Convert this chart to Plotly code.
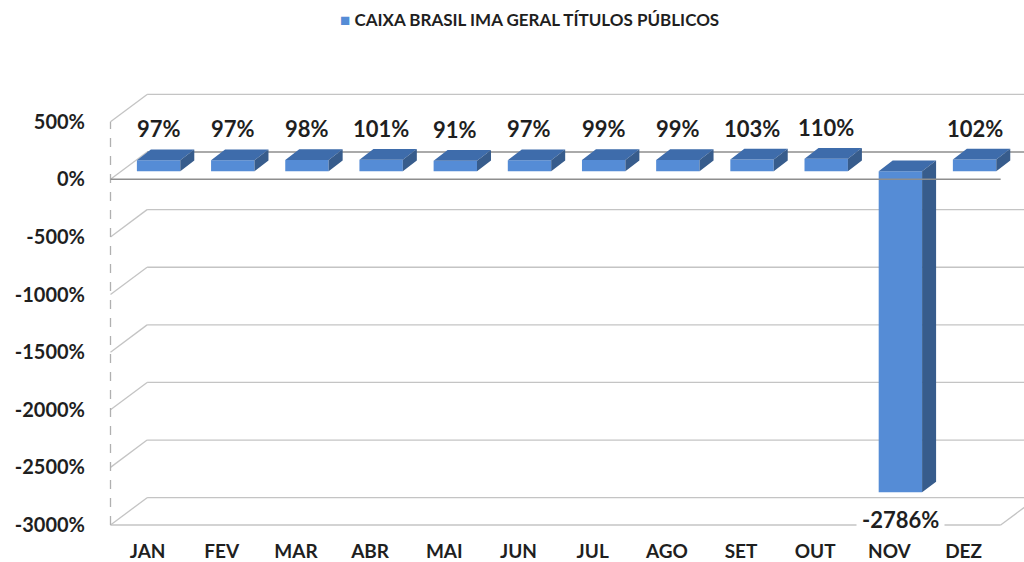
import plotly.graph_objects as go

# ---------------- data ----------------
months = ["JAN", "FEV", "MAR", "ABR", "MAI", "JUN", "JUL", "AGO", "SET", "OUT", "NOV", "DEZ"]
values = [97, 97, 98, 101, 91, 97, 99, 99, 103, 110, -2786, 102]
y_ticks = [500, 0, -500, -1000, -1500, -2000, -2500, -3000]
series_name = "CAIXA BRASIL IMA GERAL TÍTULOS PÚBLICOS"

# ---------------- geometry (pixel based pseudo-3D) ----------------
W, H = 1024, 562
PX_CAT = 74.18          # px per category
PX_PCT = 0.11523        # px per percent unit
ML, MR, MT, MB = 108, 0, 60, 35
front_left_px = 110.5
front_bottom_px = 525.0

plot_w = W - ML - MR
plot_h = H - MT - MB
x_lo = -0.5 - (front_left_px - ML) / PX_CAT
x_hi = x_lo + plot_w / PX_CAT
y_lo = y_ticks[-1] - (H - MB - front_bottom_px) / PX_PCT
y_hi = y_lo + plot_h / PX_PCT

# wall depth
DX = 36.6 / PX_CAT
DY = 27.3 / PX_PCT
# bar placement inside depth
BFX = 11.0 / PX_CAT
BFY = 8.0 / PX_PCT
BDX = 14.0 / PX_CAT
BDY = 10.7 / PX_PCT
BW = 43.4 / PX_CAT

FRONT = "#558CD6"
TOP = "#3E6CAB"
SIDE = "#375C8C"
GRID = "#c4c4c4"
DARK = "#8e8e8e"
FONT = "Lato"
TXT = "#1f1f1f"

fig = go.Figure()

# ---- walls / gridlines as shapes below the traces ----
x_left = -0.5
x_right = len(months) - 0.5
for t in y_ticks:
    if t == 0:
        fig.add_shape(type="line", xref="x", yref="y", x0=x_left, y0=t, x1=x_left + DX, y1=t + DY,
                      line=dict(color=GRID, width=1.3), layer="below")
        fig.add_shape(type="line", xref="x", yref="y", x0=x_left + DX, y0=t + DY, x1=x_hi + 1, y1=t + DY,
                      line=dict(color=DARK, width=1.5), layer="below")
    else:
        fig.add_shape(type="line", xref="x", yref="y", x0=x_left, y0=t, x1=x_left + DX, y1=t + DY,
                      line=dict(color=GRID, width=1.3), layer="below")
        fig.add_shape(type="line", xref="x", yref="y", x0=x_left + DX, y0=t + DY, x1=x_hi + 1, y1=t + DY,
                      line=dict(color=GRID, width=1.3), layer="below")
# floor front edge and right diagonal
fig.add_shape(type="line", xref="x", yref="y", x0=x_left, y0=y_ticks[-1], x1=x_right, y1=y_ticks[-1],
              line=dict(color=GRID, width=1.3), layer="below")
fig.add_shape(type="line", xref="x", yref="y", x0=x_right, y0=y_ticks[-1], x1=x_right + DX,
              y1=y_ticks[-1] + DY, line=dict(color=GRID, width=1.3), layer="below")
# left dashed front edge
fig.add_shape(type="line", xref="x", yref="y", x0=x_left, y0=y_ticks[-1], x1=x_left, y1=y_ticks[0],
              line=dict(color="#b0b0b0", width=1.3, dash="dash"), layer="below")

# bars: front face
xs_front = [i + BFX for i in range(len(values))]
fig.add_trace(go.Bar(x=xs_front, y=values, base=BFY, width=BW, name=series_name,
                     marker=dict(color=FRONT, line=dict(width=0)), hoverinfo="skip",
                     showlegend=False))

# bars: top and side faces
tx, ty, sx, sy = [], [], [], []
for i, v in enumerate(values):
    xl = i + BFX - BW / 2
    xr = i + BFX + BW / 2
    top = max(BFY, BFY + v)
    bot = min(BFY, BFY + v)
    tx += [xl, xr, xr + BDX, xl + BDX, xl, None]
    ty += [top, top, top + BDY, top + BDY, top, None]
    sx += [xr, xr, xr + BDX, xr + BDX, xr, None]
    sy += [bot, top, top + BDY, bot + BDY, bot, None]
fig.add_trace(go.Scatter(x=tx, y=ty, mode="lines", fill="toself", fillcolor=TOP,
                         line=dict(width=0, color=TOP), hoverinfo="skip", showlegend=False))
fig.add_trace(go.Scatter(x=sx, y=sy, mode="lines", fill="toself", fillcolor=SIDE,
                         line=dict(width=0, color=SIDE), hoverinfo="skip", showlegend=False))

# front 0 line over bars
fig.add_trace(go.Scatter(x=[x_left, x_right], y=[0, 0], mode="lines",
                         line=dict(color=DARK, width=1.5), hoverinfo="skip", showlegend=False))

# data labels
OFF_POS = 28.7 / PX_PCT + BDY
OFF_NEG = -26.7 / PX_PCT
for i, v in enumerate(values):
    if v >= 0:
        fig.add_annotation(x=i + BFX, y=v + OFF_POS, text=f"{v}%", showarrow=False,
                           font=dict(family=FONT, size=22, color=TXT, weight="bold"))
    else:
        fig.add_annotation(x=i + BFX, y=BFY + v + OFF_NEG, text=f"{v}%", showarrow=False,
                           bgcolor="white", borderpad=5,
                           font=dict(family=FONT, size=22, color=TXT, weight="bold"))

# legend (series key) drawn as annotation: coloured square + series name
fig.add_annotation(xref="paper", yref="paper", x=(338 - ML) / plot_w, xanchor="left",
                   y=1 + (MT - 19) / plot_h, yanchor="middle", showarrow=False,
                   text=f"<span style='color:{FRONT}'>■</span> {series_name}",
                   font=dict(family=FONT, size=17, color=TXT, weight="bold"))

fig.update_layout(
    width=W, height=H,
    margin=dict(l=ML, r=MR, t=MT, b=MB, autoexpand=False),
    paper_bgcolor="white", plot_bgcolor="white",
    barmode="overlay",
    showlegend=False,
    xaxis=dict(range=[x_lo, x_hi], tickmode="array", tickvals=list(range(len(months))),
               ticktext=months, showgrid=False, zeroline=False, showline=False,
               ticks="", ticklabelstandoff=11, automargin=False,
               tickfont=dict(family=FONT, size=19, color=TXT, weight="bold")),
    yaxis=dict(range=[y_lo, y_hi], tickmode="array", tickvals=y_ticks,
               ticktext=[f"{t}%" for t in y_ticks], showgrid=False, zeroline=False,
               showline=False, ticks="", ticklabelstandoff=22, automargin=False,
               tickfont=dict(family=FONT, size=20, color=TXT, weight="bold")),
)

fig.write_html("out.html", config={"displayModeBar": False},
               post_script="document.body.style.margin='0px';")
